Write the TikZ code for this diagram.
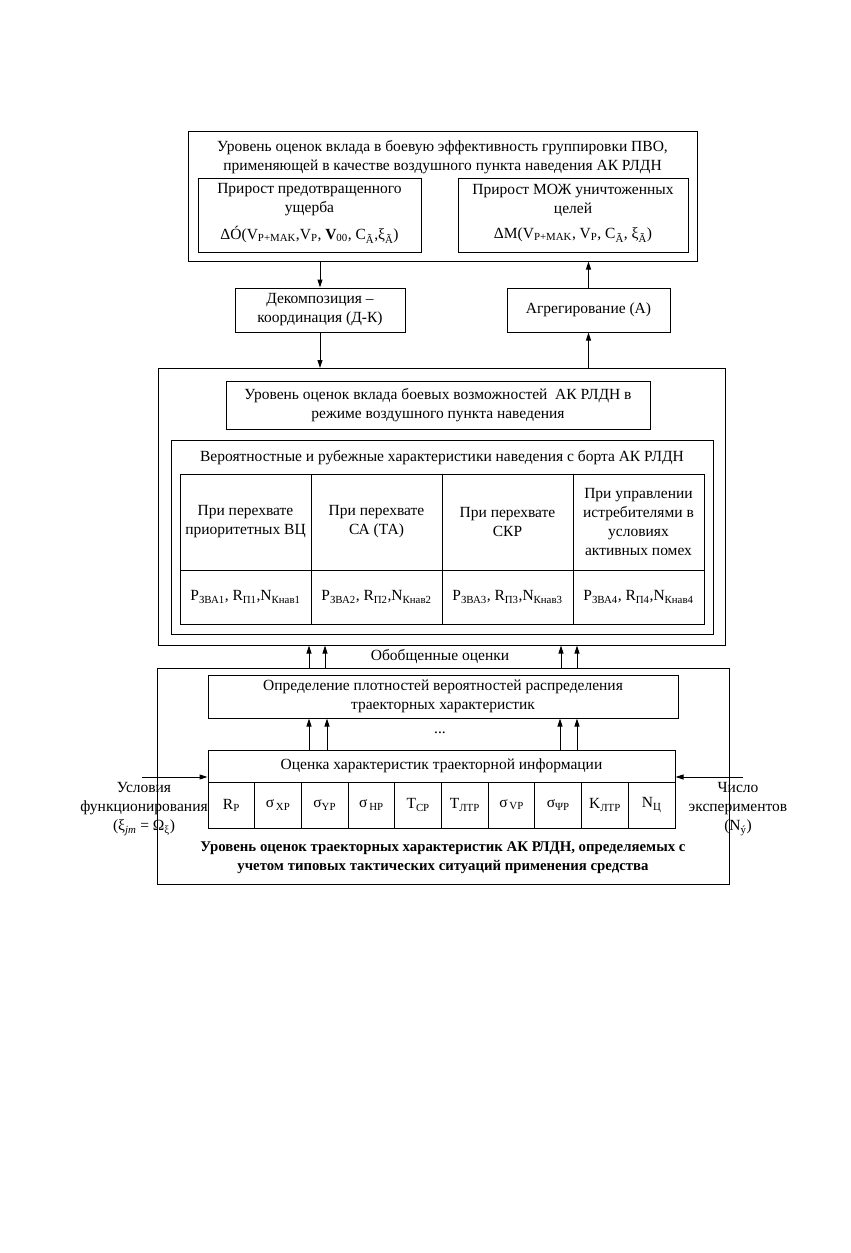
\documentclass[tikz,border=0pt]{standalone}
\usepackage{fontspec}
\setmainfont{Liberation Serif}
\usetikzlibrary{arrows.meta}

\newcommand{\sbs}[1]{\textsubscript{#1}}

\tikzset{
  box/.style={draw,line width=1pt,inner sep=0pt},
  txt/.style={align=center,inner sep=0pt,font=\fontsize{15.5}{19}\selectfont},
  bold/.style={txt,font=\fontsize{14.8}{19}\selectfont\bfseries},
  arr/.style={line width=1pt,-{Triangle[length=8pt,width=5pt]}},
}

\begin{document}
\begin{tikzpicture}[x=1pt,y=-1pt]
  \useasboundingbox (0,0) rectangle (851,1253);

  % Top level
  \node[box,minimum width=509,minimum height=130] (lvlA) at (442.5,196) {};
  \node[txt] (lvlAt) at (442.5,157) {Уровень оценок вклада в боевую эффективность группировки ПВО,\\применяющей в качестве воздушного пункта наведения АК РЛДН};
  \node[box,minimum width=223,minimum height=74] (gainU) at (309.5,215) {};
  \node[txt] (gainUt) at (309.5,200) {Прирост предотвращенного\\ущерба};
  \node[txt] (gainUf) at (309.5,235) {ΔÓ(V\sbs{P+MAK},V\sbs{P}, \textbf{V}\sbs{00}, C\sbs{Ã},ξ\sbs{Ã})};
  \node[box,minimum width=230,minimum height=74] (gainM) at (573,215) {};
  \node[txt] (gainMt) at (573,200) {Прирост МОЖ уничтоженных\\целей};
  \node[txt] (gainMf) at (573,235) {ΔM(V\sbs{P+MAK}, V\sbs{P}, C\sbs{Ã}, ξ\sbs{Ã})};

  % Decomposition / aggregation
  \node[box,minimum width=170,minimum height=44] (dk) at (320,310) {};
  \node[txt] (dkt) at (320,310) {Декомпозиция –\\координация (Д-К)};
  \node[box,minimum width=163,minimum height=44] (agr) at (588.5,310) {};
  \node[txt] (agrt) at (588.5,310) {Агрегирование (А)};
  \draw[arr] (lvlA.south -| dk) -- (dk.north);
  \draw[arr] (dk.south) -- (dk.south |- 0,368);
  \draw[arr] (agr.south |- 0,368) -- (agr.south);
  \draw[arr] (agr.north) -- (agr.north |- lvlA.south);

  % Middle level
  \node[box,minimum width=567,minimum height=277] (lvlB) at (441.5,506.5) {};
  \node[box,minimum width=424,minimum height=48] (lvlBt) at (438,405) {};
  \node[txt] at (438,405) {Уровень оценок вклада боевых возможностей~ АК РЛДН в\\режиме воздушного пункта наведения};
  \node[box,minimum width=542,minimum height=194] (prob) at (442,537) {};
  \node[txt] (probt) at (442,458) {Вероятностные и рубежные характеристики наведения с борта АК РЛДН};
  \foreach \t [count=\i] in {{При перехвате\\приоритетных ВЦ},{При перехвате\\СА (ТА)},{При перехвате\\СКР},{При управлении\\истребителями в\\условиях\\активных помех}}
    \node[box,txt,minimum width=131,minimum height=96] (h\i) at ({180+131*(\i-0.5)},522) {\t};
  \foreach \t [count=\i] in {{P\sbs{ЗВА1}, R\sbs{П1},N\sbs{Кнав1}},{P\sbs{ЗВА2}, R\sbs{П2},N\sbs{Кнав2}},{P\sbs{ЗВА3}, R\sbs{П3},N\sbs{Кнав3}},{P\sbs{ЗВА4}, R\sbs{П4},N\sbs{Кнав4}}}
    \node[box,txt,minimum width=131,minimum height=54] (v\i) at ({180+131*(\i-0.5)},597) {\t};

  % Bottom level
  \node[box,minimum width=572,minimum height=216] (lvlC) at (443,776) {};
  \node[txt] (gen) at (440,657) {Обобщенные оценки};
  \foreach \x in {309,325,561,577}
    \draw[arr] (\x,0 |- lvlC.north) -- (\x,0 |- lvlB.south);
  \node[box,txt,minimum width=470,minimum height=43] (dens) at (443,696.5) {Определение плотностей вероятностей распределения\\траекторных характеристик};
  \node[box,txt,minimum width=467,minimum height=32] (est) at (441.5,766) {Оценка характеристик траекторной информации};
  \node[txt] (dots) at (440,733) {...};
  \foreach \x in {309,327,560,577}
    \draw[arr] (\x,0 |- est.north) -- (\x,0 |- dens.south);
  \foreach \t [count=\i] in {R\sbs{Р},σ\sbs{\,XP},σ\sbs{YP},σ\sbs{\,HP},T\sbs{CP},T\sbs{ЛТР},σ\sbs{\,VP},σ\sbs{ΨP},K\sbs{ЛТР},N\sbs{Ц}}
    \node[box,txt,minimum width=46.7,minimum height=46] (c\i) at ({208+46.7*(\i-0.5)},805) {\t};
  \node[bold] (lvlCt) at (443,858) {Уровень оценок траекторных характеристик АК РЛДН, определяемых с\\учетом типовых тактических ситуаций применения средства};

  % Inputs
  \coordinate (inL) at (142,777);
  \coordinate (inR) at (743,777);
  \draw[arr] (inL) -- (inL -| est.west);
  \draw[arr] (inR) -- (inR -| est.east);
  \node[txt] (condL) at (144,809) {Условия\\функционирования\\(ξ\sbs{\textit{jm}} = Ω\sbs{ξ})};
  \node[txt] (numR) at (738,809) {Число\\экспериментов\\(N\sbs{ý})};
\end{tikzpicture}
\end{document}
